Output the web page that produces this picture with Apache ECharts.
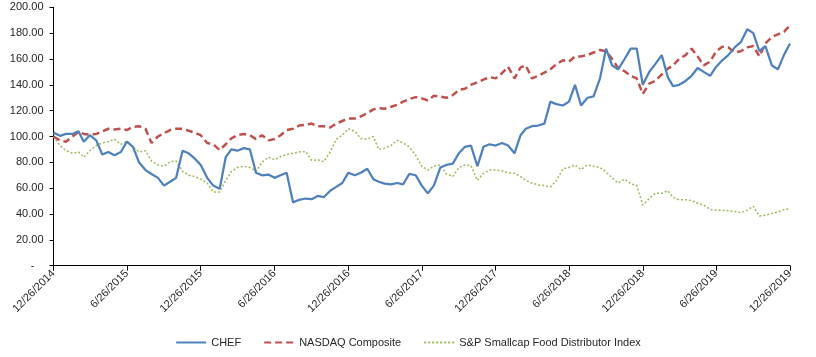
<!DOCTYPE html>
<html>
<head>
<meta charset="utf-8">
<script src="https://cdn.jsdelivr.net/npm/echarts@6/dist/echarts.min.js"></script>
<style>
html,body{margin:0;padding:0;background:#fff;}
#chart{width:816px;height:357px;}
</style>
</head>
<body>
<div id="chart"></div>
<script>
// Half-monthly observation dates, 12/26/2014 .. 12/26/2019 (26th and 11th of each month)
const dates = [];
for (let m = 0; m <= 60; m++) {
  const d26 = new Date(2014, 11 + m, 26);
  dates.push(d26);
  if (m < 60) dates.push(new Date(2014, 12 + m, 11));
}

// Tick label dates (every 6 months)
const tickDates = ['2014-12-26','2015-06-26','2015-12-26','2016-06-26','2016-12-26','2017-06-26',
                   '2017-12-26','2018-06-26','2018-12-26','2019-06-26','2019-12-26'];

const seriesNames = ['CHEF', 'NASDAQ Composite', 'S&P Smallcap Food Distributor Index'];

const chef = [
  103, 100.5, 102, 102, 104, 96, 101, 97, 86, 88,
  85.5, 88, 96, 92, 80, 74, 71, 68, 62, 65,
  68, 89, 87, 83, 78, 68, 62, 59.5, 84, 90,
  89, 91, 90, 72, 70, 70.5, 68, 70, 72, 49,
  51, 52, 51.5, 54, 53, 58, 61, 64, 72, 70,
  72, 75, 67, 65, 63.5, 63, 64, 63, 71, 70,
  62, 56, 62, 76, 78, 79, 87, 92, 93, 77,
  92, 94, 93, 95, 93, 87, 101, 106, 108, 108.5,
  110, 127, 125, 124, 127, 140, 124, 130, 131, 145,
  168, 155, 152, 160, 168, 168, 140, 150, 156, 163,
  146, 139, 140, 143, 147, 153, 150, 147, 154, 159,
  163, 169, 173, 183, 180, 166, 170, 155, 152, 163,
  172
];

const nasdaq = [
  100, 97, 96, 100, 103.5, 102, 101.5, 102, 104, 106,
  105.5, 106, 105, 107.5, 108, 106, 95, 100, 102.5, 105,
  106, 106, 104.5, 103, 101, 95, 94, 89.5, 94, 98.5,
  101, 102, 101, 98, 101, 97, 98, 101, 105, 106,
  108.5, 109, 110, 108, 108, 107, 110, 112, 114, 114,
  115.5, 118, 121, 122, 121.5, 123, 124.5, 127, 129, 130.5,
  129.5, 128, 131.5, 131, 130, 132, 136, 137, 140, 142,
  144, 146, 145, 149, 154, 145, 153.5, 155, 145, 147,
  149.5, 152, 156, 159, 158, 162, 162, 163, 165, 167,
  166, 160, 153, 150.5, 147, 145, 133, 141, 143, 148,
  152.5, 155, 160, 163, 168, 162, 155, 158, 166, 169.5,
  169, 165, 166, 169, 170, 162, 172, 177, 179, 181,
  186
];

const spFood = [
  100, 93, 89, 87, 88, 84, 89, 93, 95, 96,
  98, 94, 96, 92, 88, 89, 81, 78, 77, 80.5,
  81, 73, 70, 69, 67, 64, 57, 57, 66, 73,
  76, 77, 76, 73, 80, 84, 82, 84.5, 86, 87,
  88, 88.5, 81.5, 82, 80.5, 88, 98, 101, 106, 104,
  98.5, 98, 100, 90, 91, 93, 97, 95, 92, 85.5,
  77, 74, 77, 78, 71, 69, 76, 78, 77.5, 66,
  71.5, 74, 74, 73.5, 72, 71.5, 69, 66, 64, 62.5,
  62, 61, 66, 75, 76, 78, 74.5, 78, 77, 76,
  72.5, 68, 64, 67, 63.5, 62, 47, 52, 56, 56,
  58, 53, 51, 51, 50.5, 48.3, 47, 43.5, 43, 43,
  42.5, 42, 41, 43, 46, 38.5, 39, 40.5, 41.5, 43.5,
  44
];

const colors = ['#4F81BD', '#C0504D', '#9BBB59'];
const FONT = "'Liberation Sans', Arial, sans-serif";

function pair(vals) { return dates.map((d, i) => [d.getTime(), vals[i]]); }
function fmtDate(v) { const d = new Date(v); return (d.getMonth() + 1) + '/' + d.getDate() + '/' + d.getFullYear(); }
const tickTimes = tickDates.map(s => { const p = s.split('-'); return new Date(+p[0], +p[1] - 1, +p[2]).getTime(); });

const chart = echarts.init(document.getElementById('chart'), null, { renderer: 'canvas' });
chart.setOption({
  animation: false,
  backgroundColor: '#ffffff',
  grid: { left: 53.5, right: 26, top: 7.3, bottom: 91.3, containLabel: false, outerBoundsMode: 'none' },
  xAxis: {
    type: 'value',
    min: tickTimes[0],
    max: tickTimes[tickTimes.length - 1],
    splitLine: { show: false },
    axisLine: { lineStyle: { color: '#000', width: 1 } },
    axisTick: { show: true, length: 5, lineStyle: { color: '#000' }, customValues: tickTimes },
    axisLabel: {
      customValues: tickTimes,
      rotate: 45, margin: 6, color: '#262626', fontSize: 11, fontFamily: FONT,
      formatter: v => fmtDate(v), hideOverlap: false, showMinLabel: true, showMaxLabel: true
    }
  },
  yAxis: {
    type: 'value', min: 0, max: 200, interval: 20,
    splitLine: { show: false },
    axisLine: { show: true, lineStyle: { color: '#000', width: 1 } },
    axisTick: { show: true, length: 4, lineStyle: { color: '#000' } },
    axisLabel: {
      color: '#262626', fontSize: 11, fontFamily: FONT, margin: 10,
      formatter: v => v === 0 ? '-   ' : v.toFixed(2)
    }
  },
  legend: {
    bottom: 4, left: 'center', itemWidth: 30, itemHeight: 10, itemGap: 22,
    itemStyle: { opacity: 0 },
    textStyle: { color: '#262626', fontSize: 11, fontFamily: FONT },
    data: seriesNames
  },
  series: [
    { name: seriesNames[0], type: 'line', data: pair(chef), symbol: 'none', z: 3,
      lineStyle: { color: colors[0], width: 2.25 }, itemStyle: { color: colors[0] } },
    { name: seriesNames[1], type: 'line', data: pair(nasdaq), symbol: 'none', z: 2,
      lineStyle: { color: colors[1], width: 2.5, type: [7, 4] }, itemStyle: { color: colors[1] } },
    { name: seriesNames[2], type: 'line', data: pair(spFood), symbol: 'none', z: 1,
      lineStyle: { color: colors[2], width: 1.5, type: [2, 2] }, itemStyle: { color: colors[2] } }
  ]
});
</script>
</body>
</html>
